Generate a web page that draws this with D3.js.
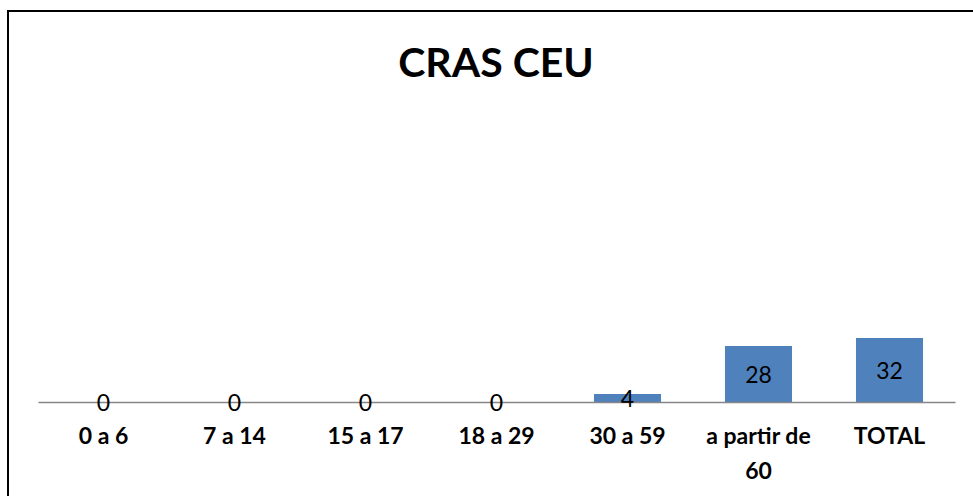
<!DOCTYPE html>
<html>
<head>
<meta charset="utf-8">
<script src="https://cdn.jsdelivr.net/npm/d3@7"></script>
<style>
  body { margin: 0; background: #fff; }
  svg { display: block; font-family: Lato, "Open Sans", sans-serif; }
</style>
</head>
<body>
<div id="chart_container"></div>
<script>
// chart data
const categories = ["0 a 6", "7 a 14", "15 a 17", "18 a 29", "30 a 59", "a partir de 60", "TOTAL"];
const values = [0, 0, 0, 0, 4, 28, 32];
const title = "CRAS CEU";

const w = 973;
const h = 496;
const barColor = "#4f81bd";

const svg = d3.select("#chart_container").append("svg")
    .attr("width", w)
    .attr("height", h);

// outer border (right and bottom edges fall outside the picture)
svg.append("rect")
    .attr("x", 8).attr("y", 11)
    .attr("width", 990).attr("height", 510)
    .attr("fill", "none")
    .attr("stroke", "#000")
    .attr("stroke-width", 2);

// title
svg.append("text")
    .attr("x", 496).attr("y", 77)
    .attr("text-anchor", "middle")
    .attr("font-size", 41)
    .attr("font-weight", "bold")
    .attr("fill", "#000")
    .text(title);

// scales
const xScale = d3.scaleBand()
    .domain(categories)
    .range([38, 955])
    .paddingInner(0.488)
    .paddingOuter(0.244);

const yScale = d3.scaleLinear()
    .domain([0, 150])
    .range([402, 102]);

// bars
svg.selectAll("rect.bar")
    .data(values)
    .enter()
    .append("rect")
    .attr("class", "bar")
    .attr("x", (d, i) => xScale(categories[i]))
    .attr("y", d => yScale(d))
    .attr("width", xScale.bandwidth())
    .attr("height", d => yScale(0) - yScale(d))
    .attr("fill", barColor);

// category axis
const xAxis = d3.axisBottom(xScale).tickSize(0).tickPadding(0);
const gx = svg.append("g")
    .attr("transform", "translate(0," + yScale(0) + ")")
    .call(xAxis);
gx.select(".domain").attr("stroke", "#868686").attr("stroke-width", 1.3);
gx.selectAll(".tick text")
    .attr("font-family", "Lato, 'Open Sans', sans-serif")
    .attr("font-size", 23)
    .attr("font-weight", "bold")
    .attr("fill", "#000")
    .attr("dy", null)
    .attr("y", 42)
    .call(wrap, xScale.step() - 4);

// value labels, centred in each bar
svg.selectAll("text.value")
    .data(values)
    .enter()
    .append("text")
    .attr("class", "value")
    .attr("x", (d, i) => xScale(categories[i]) + xScale.bandwidth() / 2)
    .attr("y", d => (yScale(d) + yScale(0)) / 2 + 9)
    .attr("text-anchor", "middle")
    .attr("font-size", 23)
    .attr("fill", "#000")
    .text(d => d);

function wrap(texts, width) {
    texts.each(function() {
        const text = d3.select(this);
        const words = text.text().split(/\s+/);
        const y = text.attr("y");
        let line = [];
        let lineNo = 0;
        text.text(null);
        let tspan = text.append("tspan").attr("x", 0).attr("y", y);
        words.forEach(word => {
            line.push(word);
            tspan.text(line.join(" "));
            if (tspan.node().getComputedTextLength() > width && line.length > 1) {
                line.pop();
                tspan.text(line.join(" "));
                line = [word];
                lineNo++;
                tspan = text.append("tspan").attr("x", 0).attr("y", +y + lineNo * 35).text(word);
            }
        });
    });
}
</script>
</body>
</html>
